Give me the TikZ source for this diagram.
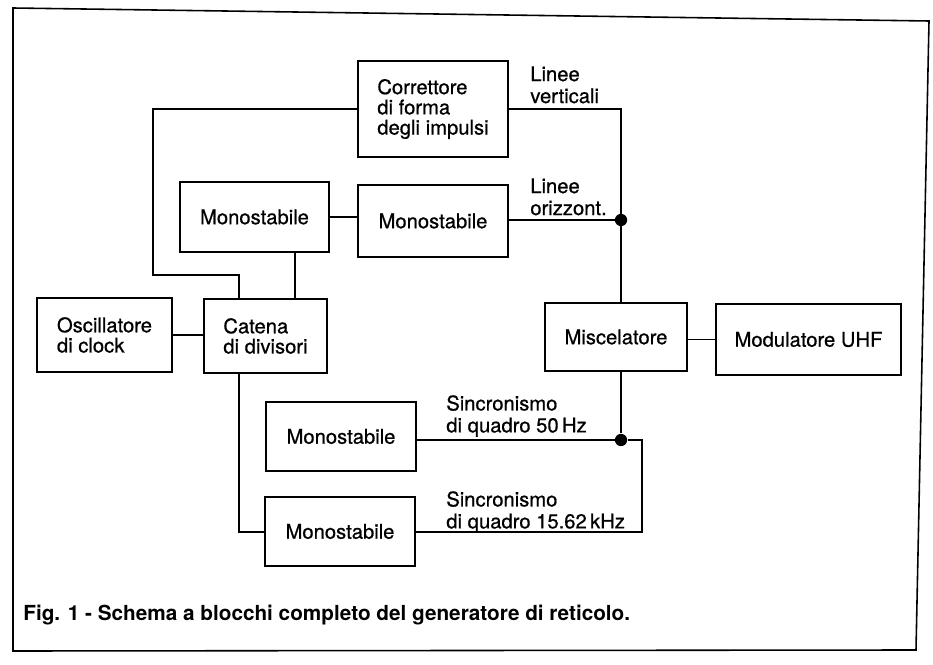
\documentclass[tikz,border=0pt]{standalone}
\usepackage{fontspec}
\setmainfont{TeX Gyre Heros}
\newfontfamily\medfont{TeX Gyre Heros}[FakeBold=0.7]
\usetikzlibrary{calc}

\begin{document}
\begin{tikzpicture}[
    x=0.02cm, y=-0.02cm,
    % Define block style
    block/.style={rectangle, draw, line width=1.6pt, align=left, inner sep=0pt,
                  font=\medfont\fontsize{11.5}{11.5}\selectfont},
    % Define connector style
    wire/.style={line width=0.8pt},
    % Labels on the connectors
    lbl/.style={anchor=north west, inner sep=0pt, align=left,
                font=\medfont\fontsize{11.5}{12.5}\selectfont},
    % Junction dot
    joint/.style={circle, fill, inner sep=0pt, minimum size=7pt}
]

    \useasboundingbox (0,0) rectangle (933,665);

    % Frame
    \draw[line width=0.9pt] (13,8) -- (929,21) -- (916,650) -- (13,651) -- cycle;

    % Nodes (blocks)
    \node[block, minimum width=3cm, minimum height=1.92cm] (corr) at (433,109)
        {Correttore\\di forma\\degli impulsi};
    \node[block, minimum width=2.98cm, minimum height=1.4cm] (monoA) at (254.5,217) {Monostabile};
    \node[block, minimum width=3cm, minimum height=1.44cm] (monoB) at (433,221) {Monostabile};
    \node[block, minimum width=2.7cm, minimum height=1.48cm] (osc) at (104.5,335) {Oscillatore\\di clock};
    \node[block, minimum width=2.46cm, minimum height=1.48cm] (cat) at (265.5,336) {Catena\\di divisori};
    \node[block, minimum width=2.84cm, minimum height=1.36cm] (misc) at (616,337) {Miscelatore};
    \node[block, minimum width=3.7cm, minimum height=1.42cm] (mod) at (808.5,339.5) {Modulatore UHF};
    \node[block, minimum width=3cm, minimum height=1.38cm] (monoC) at (341,436.5) {Monostabile};
    \node[block, minimum width=3cm, minimum height=1.38cm] (monoD) at (340,531.5) {Monostabile};

    % Junctions and corners
    \node[joint] (jH) at (621,220) {};
    \node[joint] (jV) at (621,440) {};
    \coordinate (back) at (153,275);
    \coordinate (tapL) at (239,0);
    \coordinate (tapR) at (295,0);
    \coordinate (ret) at (642,532);

    % Connectors
    \draw[wire] (corr.west) -| (back) -| (cat.north -| tapL);
    \draw[wire] (corr.east) -| (misc.north -| jH);
    \draw[wire] (monoA.east) -- (monoA.east -| monoB.west);
    \draw[wire] (monoB.east |- jH) -- (jH);
    \draw[wire] (monoA.south -| tapR) -- (cat.north -| tapR);
    \draw[wire] (osc.east) -- (osc.east -| cat.west);
    \draw[wire] (misc.east |- mod.west) -- (mod.west);
    \draw[wire] (misc.south -| jV) -- (jV);
    \draw[wire] (monoC.east |- jV) -- (jV) -| (ret) -- (ret -| monoD.east);
    \draw[wire] (cat.south -| tapL) |- (monoD.west |- ret);

    % Labels
    \node[lbl] (lvert) at (530,66) {Linee\\verticali};
    \node[lbl] (lorizz) at (530,178) {Linee\\orizzont.};
    \node[lbl] (lsync50) at (446,395) {Sincronismo\\di quadro 50\,Hz};
    \node[lbl] (lsync15) at (446,491) {Sincronismo\\di quadro 15.62\,kHz};

    % Caption
    \node[anchor=base west, inner sep=0pt, font=\fontsize{11.8}{14}\selectfont\bfseries] (caption) at (23,620)
        {Fig. 1 - Schema a blocchi completo del generatore di reticolo.};

\end{tikzpicture}
\end{document}
